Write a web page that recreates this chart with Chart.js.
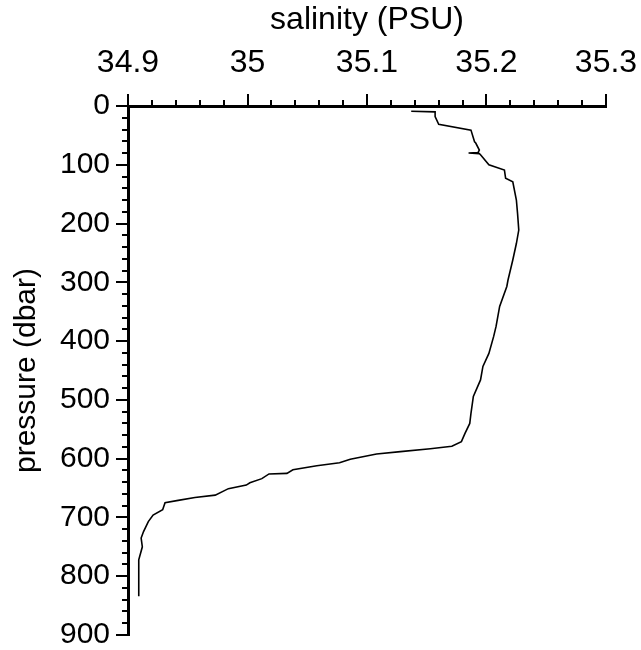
<!DOCTYPE html>
<html>
<head>
<meta charset="utf-8">
<script src="https://cdn.jsdelivr.net/npm/chart.js@4/dist/chart.umd.min.js"></script>
<style>
  html, body { margin: 0; padding: 0; background: #fff; }
  #wrap { width: 641px; height: 650px; }
</style>
</head>
<body>
<div id="wrap"><canvas id="c" width="641" height="650"></canvas></div>
<script>
// Salinity profile
const pressure = [9, 10, 18, 31, 41, 61, 63, 75, 79, 80, 81, 83, 100, 109, 123, 129, 160, 183, 211, 234, 262, 296, 307, 341, 375, 392, 421, 443, 466, 494, 523, 540, 557, 571, 579, 583, 588, 592, 601, 607, 612, 619, 625, 626, 634, 641, 645, 651, 662, 666, 671, 675, 687, 696, 707, 724, 735, 750, 772, 806, 834];
const salinity = [35.137, 35.157, 35.157, 35.160, 35.187, 35.190, 35.191, 35.194, 35.193, 35.185, 35.194, 35.195, 35.202, 35.215, 35.216, 35.222, 35.225, 35.226, 35.227, 35.225, 35.222, 35.218, 35.217, 35.211, 35.208, 35.206, 35.202, 35.197, 35.195, 35.189, 35.187, 35.186, 35.182, 35.179, 35.171, 35.153, 35.128, 35.108, 35.086, 35.077, 35.058, 35.038, 35.033, 35.018, 35.012, 35.002, 34.999, 34.984, 34.973, 34.956, 34.942, 34.931, 34.929, 34.921, 34.917, 34.913, 34.911, 34.912, 34.909, 34.909, 34.909];

const xRange = [34.9, 35.3];
const xStep = 0.02;          // minor tick spacing
const xLabelEvery = 0.1;     // labelled ticks
const yRange = [0, 900];
const yStep = 20;
const yLabelEvery = 100;

const xTitle = 'salinity (PSU)';
const yTitle = 'pressure (dbar)';

const points = pressure.map((p, i) => ({ x: salinity[i], y: p }));

const FONT = '"Liberation Sans", Arial, Helvetica, sans-serif';

function isMajorX(v) {
  const r = v / xLabelEvery;
  return Math.abs(r - Math.round(r)) < 1e-6;
}
function isMajorY(v) {
  return Math.abs(v % yLabelEvery) < 1e-6;
}

const tickMarks = {
  id: 'tickMarks',
  afterDraw(chart) {
    const ctx = chart.ctx;
    const xs = chart.scales.x, ys = chart.scales.y;
    ctx.save();
    ctx.strokeStyle = '#000';
    ctx.lineWidth = 2;
    xs.ticks.forEach(t => {
      const px = Math.round(xs.getPixelForValue(t.value));
      const len = isMajorX(t.value) ? 12 : 6;
      ctx.beginPath();
      ctx.moveTo(px, xs.bottom);
      ctx.lineTo(px, xs.bottom - len);
      ctx.stroke();
    });
    ys.ticks.forEach(t => {
      const py = Math.round(ys.getPixelForValue(t.value));
      const len = isMajorY(t.value) ? 12 : 6;
      ctx.beginPath();
      ctx.moveTo(ys.right, py);
      ctx.lineTo(ys.right - len, py);
      ctx.stroke();
    });
    ctx.restore();
  }
};

new Chart(document.getElementById('c'), {
  type: 'scatter',
  data: {
    datasets: [{
      data: points,
      showLine: true,
      borderColor: '#000',
      borderWidth: 1.6,
      pointRadius: 0,
      tension: 0
    }]
  },
  options: {
    responsive: false,
    animation: false,
    layout: { padding: { top: 0, left: 0, right: 35, bottom: 15 } },
    plugins: { legend: { display: false }, tooltip: { enabled: false } },
    scales: {
      x: {
        type: 'linear',
        position: 'top',
        min: xRange[0],
        max: xRange[1],
        border: { display: true, color: '#000', width: 3 },
        grid: { display: true, drawOnChartArea: false, drawTicks: true, tickLength: 12, tickColor: 'rgba(0,0,0,0)' },
        ticks: {
          stepSize: xStep,
          autoSkip: false,
          maxRotation: 0,
          maxTicksLimit: 100,
          padding: 12,
          color: '#000',
          font: { family: FONT, size: 32 },
          callback: v => isMajorX(v) ? String(Number(v.toFixed(1))) : ''
        },
        title: {
          display: true,
          text: xTitle,
          color: '#000',
          font: { family: FONT, size: 32 },
          padding: { top: 1, bottom: 0 }
        },
        afterFit(s) { s.height = 106; s.paddingLeft = 0; s.paddingRight = 0; }
      },
      y: {
        type: 'linear',
        position: 'left',
        reverse: true,
        min: yRange[0],
        max: yRange[1],
        border: { display: true, color: '#000', width: 3 },
        grid: { display: true, drawOnChartArea: false, drawTicks: true, tickLength: 12, tickColor: 'rgba(0,0,0,0)' },
        ticks: {
          stepSize: yStep,
          autoSkip: false,
          maxTicksLimit: 100,
          padding: 6,
          color: '#000',
          font: { family: FONT, size: 30 },
          callback: v => isMajorY(v) ? String(v) : ''
        },
        title: {
          display: true,
          text: yTitle,
          color: '#000',
          font: { family: FONT, size: 30 },
          padding: 9
        },
        afterFit(s) { s.width = 128; s.paddingTop = 0; s.paddingBottom = 0; }
      }
    }
  },
  plugins: [tickMarks]
});
</script>
</body>
</html>
